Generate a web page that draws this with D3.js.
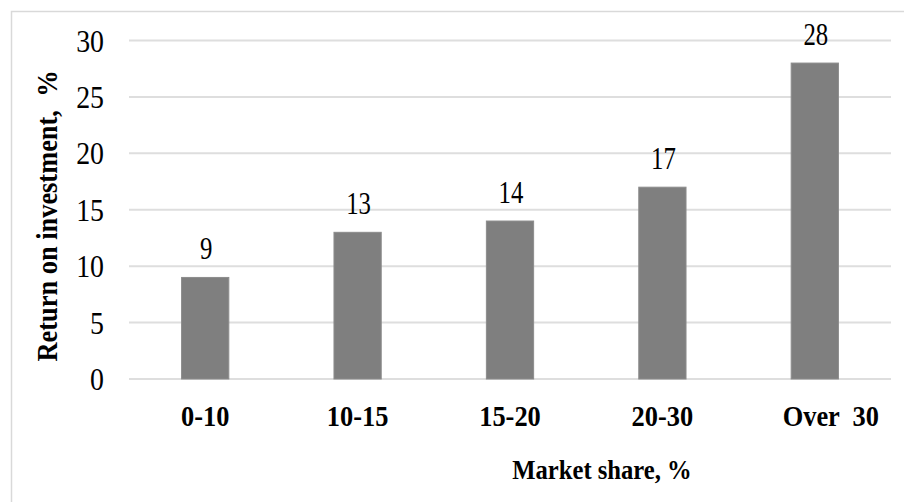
<!DOCTYPE html>
<html>
<head>
<meta charset="utf-8">
<script src="https://cdn.jsdelivr.net/npm/d3@7"></script>
<style>
  body { margin: 0; background: #fff; }
  text { font-family: "Liberation Serif", "Times New Roman", serif; fill: #000; }
</style>
</head>
<body>
<div id="chart"></div>
<script>
// data
var categories = ["0-10", "10-15", "15-20", "20-30", "Over  30"];
var values = [9, 13, 14, 17, 28];
var yTicks = [0, 5, 10, 15, 20, 25, 30];
var yTitle = "Return on investment,  %";
var xTitle = "Market share, %";

var width = 904, height = 502;
var plot = {left: 129, right: 891, top: 40.5, bottom: 379};

var svg = d3.select("#chart").append("svg")
    .attr("width", width)
    .attr("height", height);

// outer frame
svg.append("rect")
    .attr("x", 11.5).attr("y", 11.5)
    .attr("width", 1000).attr("height", 1000)
    .attr("fill", "none")
    .attr("stroke", "#d9d9d9")
    .attr("stroke-width", 1.5);

var x = d3.scaleBand()
    .domain(categories)
    .range([plot.left, plot.right])
    .paddingInner(0.69)
    .paddingOuter(0.345);

var y = d3.scaleLinear()
    .domain([0, 30])
    .range([plot.bottom, plot.top]);

//gridlines
svg.selectAll(".grid")
    .data(yTicks)
    .enter().append("line")
    .attr("class", "grid")
    .attr("x1", plot.left).attr("x2", plot.right)
    .attr("y1", function(d) { return y(d); })
    .attr("y2", function(d) { return y(d); })
    .attr("stroke", "#dedede")
    .attr("stroke-width", 2);

//y tick labels
svg.selectAll(".ytick")
    .data(yTicks)
    .enter().append("text")
    .attr("class", "ytick")
    .attr("transform", function(d) {
        return "translate(104," + (y(d) + 11) + ") scale(0.87,1)";
    })
    .style("text-anchor", "end")
    .style("font-size", "32px")
    .text(function(d) { return d; });

//bars
svg.selectAll(".bar")
    .data(values)
    .enter().append("rect")
    .attr("class", "bar")
    .attr("x", function(d, i) { return x(categories[i]); })
    .attr("width", x.bandwidth())
    .attr("y", function(d) { return y(d); })
    .attr("height", function(d) { return y(0) - y(d); })
    .attr("fill", "#7f7f7f")
    .attr("stroke", "#8c8c8c")
    .attr("stroke-width", 1);

//value labels
svg.selectAll(".val")
    .data(values)
    .enter().append("text")
    .attr("class", "val")
    .attr("transform", function(d, i) {
        return "translate(" + (x(categories[i]) + x.bandwidth() / 2 + 1) + "," + (y(d) - 18) + ") scale(0.8,1)";
    })
    .style("text-anchor", "middle")
    .style("font-size", "31px")
    .text(function(d) { return d; });

//category labels
svg.selectAll(".xtick")
    .data(categories)
    .enter().append("text")
    .attr("class", "xtick")
    .attr("transform", function(d, i) {
        var shift = (i === categories.length - 1) ? 16 : 0;
        return "translate(" + (x(d) + x.bandwidth() / 2 + shift) + "," + (y(0) + 47) + ") scale(0.88,1)";
    })
    .style("text-anchor", "middle")
    .style("font-size", "30px")
    .style("font-weight", "bold")
    .style("white-space", "pre")
    .text(function(d) { return d; });

//axis titles
svg.append("text")
    .attr("transform", "translate(602,479) scale(0.88,1)")
    .style("text-anchor", "middle")
    .style("font-size", "28px")
    .style("font-weight", "bold")
    .text(xTitle);

svg.append("text")
    .attr("transform", "translate(57,216) rotate(-90) scale(0.88,1)")
    .style("text-anchor", "middle")
    .style("font-size", "30px")
    .style("font-weight", "bold")
    .style("white-space", "pre")
    .text(yTitle);
</script>
</body>
</html>
